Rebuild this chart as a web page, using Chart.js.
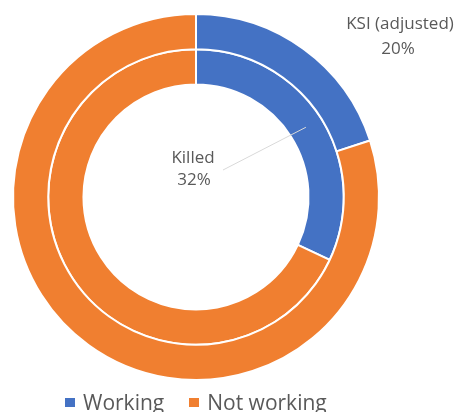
<!DOCTYPE html>
<html lang="en">
<head>
    <meta charset="UTF-8">
    <title>KSI vs Killed – Working</title>
    <script src="https://cdn.jsdelivr.net/npm/chart.js"></script>
    <style>
        html, body { margin: 0; padding: 0; background: #FFFFFF; }
        .chart-wrapper { position: relative; width: 458px; height: 412px; overflow: hidden; }
        .ring-legend {
            position: absolute; left: 65px; top: 390px; height: 24px;
            display: flex; align-items: center;
            font-family: 'Open Sans', sans-serif; font-size: 21px; line-height: 24px;
            color: #595959; white-space: nowrap;
        }
        .ring-legend .item { display: flex; align-items: center; margin-right: 25px; }
        .ring-legend .swatch { width: 10px; height: 9px; margin-right: 8px; }
    </style>
</head>
<body>
    <div class="chart-wrapper">
        <canvas id="ringChart"></canvas>
        <div class="ring-legend" id="ringLegend"></div>
    </div>

    <script>
        // categories and values (percent)
        const categories = ['Working', 'Not working'];
        const ringNames = ['KSI (adjusted)', 'Killed'];
        const ksiValues = [20, 80];      // outer ring
        const killedValues = [32, 68];   // inner ring
        const colors = ['#4472C4', '#F07F30'];

        // html legend under the rings
        const legendEl = document.getElementById('ringLegend');
        categories.forEach((name, i) => {
            const item = document.createElement('span');
            item.className = 'item';
            const sw = document.createElement('span');
            sw.className = 'swatch';
            sw.style.background = colors[i];
            item.appendChild(sw);
            item.appendChild(document.createTextNode(name));
            legendEl.appendChild(item);
        });

        // draws the two data labels + leader line
        const ringLabels = {
            id: 'ringLabels',
            afterDraw(chart) {
                const ctx = chart.ctx;
                const outer = chart.getDatasetMeta(0).data[0];
                const inner = chart.getDatasetMeta(1).data[0];
                const cx = outer.x, cy = outer.y;
                ctx.save();
                ctx.fillStyle = '#595959';
                ctx.font = '17px "Open Sans", sans-serif';
                ctx.textAlign = 'center';
                ctx.textBaseline = 'middle';

                // outer ring label (top right, outside)
                ctx.fillText(ringNames[0], cx + 204, cy - 173);
                ctx.fillText(ksiValues[0] + '%', cx + 202, cy - 148);

                // inner ring label (inside hole) with leader line to arc middle
                const mid = (inner.startAngle + inner.endAngle) / 2;
                const r = (inner.innerRadius + inner.outerRadius) / 2;
                ctx.strokeStyle = '#D9D9D9';
                ctx.lineWidth = 1;
                ctx.beginPath();
                ctx.moveTo(cx + 27, cy - 27);
                ctx.lineTo(cx + r * Math.cos(mid), cy + r * Math.sin(mid));
                ctx.stroke();
                ctx.fillText(ringNames[1], cx - 3, cy - 39);
                ctx.fillText(killedValues[0] + '%', cx - 2, cy - 17);
                ctx.restore();
            }
        };

        new Chart(document.getElementById('ringChart'), {
            type: 'doughnut',
            data: {
                labels: categories,
                datasets: [
                    { label: ringNames[0], data: ksiValues, backgroundColor: colors, borderColor: '#FFFFFF', borderWidth: 2 },
                    { label: ringNames[1], data: killedValues, backgroundColor: colors, borderColor: '#FFFFFF', borderWidth: 2 }
                ]
            },
            options: {
                responsive: true,
                maintainAspectRatio: false,
                animation: false,
                cutout: '61.5%',
                hoverOffset: 0,
                layout: { padding: { left: 12, right: 78, top: 12, bottom: 30 } },
                plugins: {
                    legend: { display: false },
                    tooltip: { enabled: false }
                }
            },
            plugins: [ringLabels]
        });
    </script>
</body>
</html>
